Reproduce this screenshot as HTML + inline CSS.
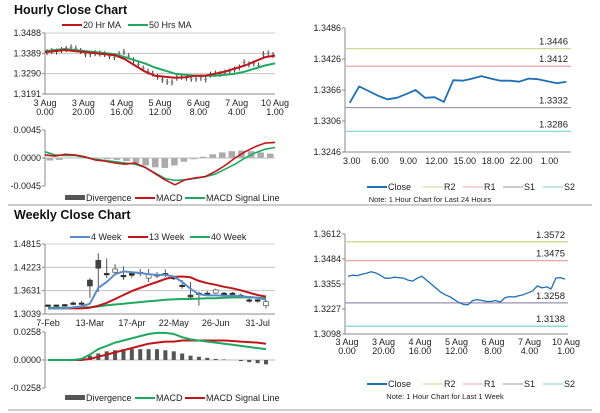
<!DOCTYPE html>
<html><head><meta charset="utf-8"><style>
html,body{margin:0;padding:0;background:#fff;}
svg{display:block;font-family:"Liberation Sans",Arial,sans-serif;}
</style></head><body>
<svg id="s" width="600" height="413" viewBox="0 0 600 413" xmlns="http://www.w3.org/2000/svg">
<text x="14" y="14" font-size="12.5" font-weight="bold" fill="#111">Hourly Close Chart</text>
<text x="14" y="219" font-size="12.5" font-weight="bold" fill="#111">Weekly Close Chart</text>
<line x1="8" y1="205" x2="592" y2="205" stroke="#999" stroke-width="1"/>
<line x1="8" y1="410" x2="592" y2="410" stroke="#999" stroke-width="1"/>
</svg>
<script>
// ---------- data ----------
const hourlyClose=[1.3395,1.3400,1.3398,1.3405,1.3410,1.3418,1.3412,1.3400,1.3385,1.3385,1.3390,1.3388,1.3385,1.3375,1.3370,1.3385,1.3395,1.3375,1.3355,1.3335,1.3315,1.3300,1.3290,1.3275,1.3260,1.3250,1.3248,1.3270,1.3275,1.3270,1.3265,1.3265,1.3270,1.3262,1.3285,1.3290,1.3288,1.3295,1.3300,1.3310,1.3320,1.3345,1.3335,1.3340,1.3330,1.3385,1.3388,1.3380];
const ma20=[1.3395,1.3400,1.3405,1.3400,1.3395,1.3390,1.3385,1.3380,1.3360,1.3330,1.3300,1.3280,1.3275,1.3270,1.3272,1.3280,1.3280,1.3290,1.3300,1.3315,1.3330,1.3350,1.3370,1.3378];
const ma50=[1.3400,1.3405,1.3410,1.3405,1.3400,1.3395,1.3390,1.3385,1.3370,1.3355,1.3340,1.3320,1.3305,1.3290,1.3285,1.3280,1.3280,1.3280,1.3285,1.3290,1.3300,1.3315,1.3330,1.3340];
const hTicks=[1.3191,1.3290,1.3389,1.3488];
const hXLabels=[["3 Aug","0.00"],["3 Aug","20.00"],["4 Aug","16.00"],["5 Aug","12.00"],["6 Aug","8.00"],["7 Aug","4.00"],["10 Aug","1.00"]];
const hMacd=[0.0005,0.0003,0.0006,0.0005,0.0002,-0.0003,-0.0005,-0.0008,-0.0010,-0.0008,-0.0015,-0.0025,-0.0035,-0.0043,-0.0035,-0.0032,-0.0030,-0.0022,-0.0012,0.0000,0.0010,0.0018,0.0024,0.0025];
const hSignal=[0.0010,0.0005,0.0004,0.0004,0.0001,-0.0002,-0.0004,-0.0006,-0.0008,-0.0010,-0.0015,-0.0024,-0.0033,-0.0036,-0.0035,-0.0033,-0.0030,-0.0026,-0.0018,-0.0010,0.0000,0.0008,0.0014,0.0017];
const hDiv=[-0.0004,-0.0003,0.0001,0.0001,0.0001,-0.0001,-0.0002,-0.0003,-0.0005,-0.0008,-0.0012,-0.0015,-0.0016,-0.0012,-0.0006,-0.0002,0.0002,0.0006,0.0009,0.0011,0.0012,0.0011,0.0009,0.0007];
const hMacdTicks=[-0.0045,0.0000,0.0045];

const dayClose=[1.3341,1.3373,1.3364,1.3355,1.3348,1.3351,1.3358,1.3366,1.3351,1.3352,1.3343,1.3385,1.3384,1.3388,1.3393,1.3388,1.3384,1.3384,1.3382,1.3388,1.3387,1.3383,1.3379,1.3382];
const dayLabels=["3.00","6.00","9.00","12.00","15.00","18.00","22.00","1.00"];
const dayTicks=[1.3246,1.3306,1.3366,1.3426,1.3486];
const dayLevels=[1.3446,1.3412,1.3332,1.3286];
const weekLevels=[1.3572,1.3475,1.3258,1.3138];
const weekTicks=[1.3098,1.3227,1.3355,1.3484,1.3612];

const wOpen=[1.325,1.324,1.326,1.330,1.330,1.375,1.420,1.405,1.410,1.400,1.400,1.408,1.395,1.400,1.405,1.395,1.375,1.345,1.355,1.355,1.357,1.355,1.355,1.350,1.338,1.338,1.325];
const wClose=[1.325,1.325,1.326,1.330,1.330,1.390,1.440,1.405,1.418,1.400,1.405,1.408,1.405,1.402,1.405,1.395,1.375,1.350,1.355,1.355,1.365,1.355,1.355,1.350,1.338,1.338,1.335];
const wHigh=[1.328,1.327,1.329,1.336,1.337,1.395,1.458,1.445,1.430,1.425,1.410,1.418,1.418,1.410,1.417,1.400,1.390,1.385,1.360,1.362,1.368,1.360,1.360,1.356,1.344,1.343,1.340];
const wLow=[1.322,1.322,1.323,1.326,1.326,1.345,1.360,1.395,1.405,1.390,1.395,1.400,1.385,1.395,1.398,1.390,1.368,1.340,1.325,1.350,1.355,1.350,1.350,1.345,1.333,1.333,1.318];
const w4=[1.318,1.318,1.318,1.321,1.323,1.330,1.370,1.385,1.405,1.412,1.410,1.408,1.405,1.403,1.403,1.399,1.385,1.368,1.354,1.351,1.351,1.350,1.350,1.349,1.347,1.345,1.340];
const w13=[1.318,1.318,1.318,1.318,1.318,1.320,1.325,1.332,1.342,1.352,1.362,1.370,1.378,1.385,1.393,1.398,1.399,1.397,1.388,1.382,1.378,1.373,1.369,1.364,1.358,1.352,1.348];
const w40=[1.320,1.320,1.320,1.320,1.320,1.321,1.323,1.326,1.328,1.330,1.332,1.334,1.336,1.338,1.340,1.341,1.342,1.342,1.343,1.344,1.344,1.345,1.346,1.346,1.346,1.345,1.344];
const wTicks=[1.3039,1.3631,1.4223,1.4815];
const wLabels=["7-Feb","13-Mar","17-Apr","22-May","26-Jun","31-Jul"];
const wMacd=[0,0,0,0,0.001,0.005,0.010,0.013,0.016,0.018,0.020,0.022,0.024,0.025,0.025,0.024,0.021,0.019,0.018,0.017,0.016,0.015,0.014,0.013,0.012,0.011,0.010];
const wSignal=[0,0,0,0,0,0.001,0.003,0.005,0.007,0.009,0.011,0.013,0.015,0.016,0.017,0.017,0.018,0.018,0.018,0.018,0.018,0.018,0.0175,0.017,0.0165,0.016,0.015];
const wDiv=[0,0,0,0,0,0.004,0.006,0.008,0.009,0.010,0.010,0.010,0.010,0.010,0.009,0.008,0.006,0.004,0.003,0.002,0.001,0.0005,0,-0.001,-0.002,-0.003,-0.004];
const wMacdTicks=[-0.0258,0.0000,0.0258];

// ---------- helpers ----------
const S=document.getElementById('s');const NS='http://www.w3.org/2000/svg';
function el(tag,at,txt){const e=document.createElementNS(NS,tag);for(const k in at)e.setAttribute(k,at[k]);if(txt!==undefined)e.textContent=txt;S.appendChild(e);return e;}
function lin(d0,d1,r0,r1){return v=>r0+(v-d0)/(d1-d0)*(r1-r0);}
function poly(xs,ys,color,w,name){const p=xs.map((x,i)=>x.toFixed(1)+','+ys[i].toFixed(1)).join(' ');const e=el('polyline',{points:p,fill:'none',stroke:color,'stroke-width':w,'stroke-linejoin':'round'});


return e;}
function txt(x,y,s,anchor,size,name){const e=el('text',{x:x,y:y,'font-size':size||9,'text-anchor':anchor||'start',fill:'#222'},s);


return e;}
function yAxis(x0,x1,ys,ticks,fmt,grid,name){
 const a=el('line',{x1:x0,x2:x0,y1:Math.min(...ticks.map(ys)),y2:Math.max(...ticks.map(ys)),stroke:'#888'});
 
 
 ticks.forEach(t=>{const y=ys(t);
  if(grid){const g=el('line',{x1:x0,x2:x1,y1:y,y2:y,stroke:'#bbb','stroke-width':0.8});
   
   }
  const tk=el('line',{x1:x0-3,x2:x0,y1:y,y2:y,stroke:'#888'});
  
  
  txt(x0-4,y+3,fmt(t),'end',9,name+'-y-label');});
}
function legend(items,y,name){items.forEach(it=>{
 if(it.bar){const r=el('rect',{x:it.x,y:y-3,width:20,height:5,fill:it.c});
  
  }
 else{const l=el('line',{x1:it.x,x2:it.x+20,y1:y,y2:y,stroke:it.c,'stroke-width':it.w||2});
  
  }
 txt(it.x+21,y+3,it.t,'start',9,name+'-legend-entry');});}

// ---------- Hourly close (top-left) ----------
{const X0=45,X1=275;const ys=lin(1.3191,1.3488,94,33);
 yAxis(X0,X1,ys,hTicks,v=>v.toFixed(4),true,'hourly');
 const xa=el('line',{x1:X0,x2:X1,y1:94,y2:94,stroke:'#888'});
 
 
 const n=hourlyClose.length;const xs=hourlyClose.map((v,i)=>X0+2+i*(X1-X0-4)/(n-1));
 hourlyClose.forEach((v,i)=>{const b=el('line',{x1:xs[i],x2:xs[i],y1:ys(v)-3,y2:ys(v)+3,stroke:'#333','stroke-width':1});
  
  
  const h=el('line',{x1:xs[i]-1.5,x2:xs[i]+1.5,y1:ys(v),y2:ys(v),stroke:'#888','stroke-width':1});
  
  });
 const mx=ma20.map((v,i)=>X0+i*(X1-X0)/(ma20.length-1));
 poly(mx,ma50.map(ys),'#1fa860',2,'ma50-line');
 poly(mx,ma20.map(ys),'#c0161b',2,'ma20-line');
 hXLabels.forEach((l,i)=>{const x=X0+i*(X1-X0)/(hXLabels.length-1);txt(x,106,l[0],'middle',9,'hourly-x-label');txt(x,115,l[1],'middle',9,'hourly-x-label');});
 legend([{x:62,t:'20 Hr MA',c:'#c0161b'},{x:128,t:'50 Hrs MA',c:'#1fa860'}],25,'hourly');
 const my=lin(-0.0045,0.0045,186,130);
 yAxis(X0,X1,my,hMacdTicks,v=>v.toFixed(4),false,'hourly-macd');
 const bw=(X1-X0)/hDiv.length;
 hDiv.forEach((v,i)=>{const x=X0+i*bw;const y=Math.min(my(v),my(0));const r=el('rect',{x:x+1.5,y:y,width:bw-3,height:Math.abs(my(v)-my(0)),fill:'#aaa'});
  
  });
 const zl=el('line',{x1:X0,x2:X1,y1:my(0),y2:my(0),stroke:'#bbb'});
 
 
 const qx=hMacd.map((v,i)=>X0+i*(X1-X0)/(hMacd.length-1));
 poly(qx,hSignal.map(my),'#1fa860',1.6,'hourly-signal-line');
 poly(qx,hMacd.map(my),'#c0161b',1.6,'hourly-macd-line');
 legend([{x:65,t:'Divergence',c:'#555',bar:1},{x:135,t:'MACD',c:'#c0161b'},{x:185,t:'MACD Signal Line',c:'#1fa860'}],198,'hourly-macd');
}

function levelChart(X0,X1,yTop,yBot,dMin,dMax,ticks,levels,name){
 const ys=lin(dMin,dMax,yBot,yTop);
 yAxis(X0,X1,ys,ticks,v=>v.toFixed(4),false,name);
 const xa=el('line',{x1:X0,x2:X1,y1:yBot,y2:yBot,stroke:'#888'});
 
 
 const cols=['#c8d48a','#e8a7a7','#9b8fb5','#7fcfd6'];
 levels.forEach((v,i)=>{const l=el('line',{x1:X0,x2:X1,y1:ys(v),y2:ys(v),stroke:cols[i],'stroke-width':1.2});
  
  
  txt(X1-3,ys(v)-4,v.toFixed(4),'end',9.5,name+'-level-label');});
 legend([{x:X0+22,t:'Close',c:'#1f6fb5'},{x:X0+78,t:'R2',c:cols[0],w:1},{x:X0+118,t:'R1',c:cols[1],w:1},{x:X0+158,t:'S1',c:cols[2],w:1},{x:X0+198,t:'S2',c:cols[3],w:1}],name==='day'?187:384,name);
 return ys;}
{const X0=345,X1=571;
 const ys=levelChart(X0,X1,28,152,1.3246,1.3486,dayTicks,dayLevels,'day');
 const w=(X1-X0)/dayClose.length;const xs=dayClose.map((v,i)=>X0+(i+0.5)*w);
 poly(xs,dayClose.map(ys),'#1f6fb5',1.8,'day-close-line');
 dayLabels.forEach((l,i)=>txt(X0+(i*3+0.5)*w+2,164,l,'middle',9,'day-x-label'));
 txt(430,202,'Note: 1 Hour Chart for Last 24 Hours','middle',7.5,'day-note');
}
{const X0=345,X1=568;
 const ys=levelChart(X0,X1,234,334,1.3098,1.3612,weekTicks,weekLevels,'week');
 const xs=hourlyClose.map((v,i)=>X0+3+i*(X1-X0-6)/(hourlyClose.length-1));
 poly(xs,hourlyClose.map(ys),'#1f6fb5',1.3,'week-close-line');
 hXLabels.forEach((l,i)=>{const x=X0+2+i*(X1-X0-4)/(hXLabels.length-1);txt(x,345,l[0],'middle',9,'week-x-label');txt(x,354,l[1],'middle',9,'week-x-label');});
 txt(445,399,'Note: 1 Hour Chart for  Last 1 Week','middle',7.5,'week-note');
}

// ---------- Weekly (bottom-left) ----------
{const X0=45,X1=275;const ys=lin(1.3039,1.4815,314,244);
 yAxis(X0,X1,ys,wTicks,v=>v.toFixed(4),true,'weekly');
 const xa=el('line',{x1:X0,x2:X1,y1:314,y2:314,stroke:'#888'});
 
 
 const n=wClose.length;const st=(X1-X0-12)/(n-1);const xs=wClose.map((v,i)=>X0+3+i*st);
 wClose.forEach((c,i)=>{const o=wOpen[i];const x=xs[i];
  const wk=el('line',{x1:x,x2:x,y1:ys(wHigh[i]),y2:ys(wLow[i]),stroke:'#555','stroke-width':1});
  
  
  const top=ys(Math.max(o,c)),h=Math.max(1.5,Math.abs(ys(o)-ys(c)));
  const r=el('rect',{x:x-2.5,y:top-(h<2?0.75:0),width:5,height:h,fill:h>2?(c>o?'#fff':'#444'):'#222',stroke:'#333','stroke-width':0.6});
  if(i===5||i===6||i===17)r.setAttribute('fill','#444');
  
  });
 poly(xs,w40.map(ys),'#1fa860',2,'week40-line');
 poly(xs,w13.map(ys),'#c0161b',2,'week13-line');
 poly(xs,w4.map(ys),'#5b8cc8',2,'week4-line');
 wLabels.forEach((l,i)=>txt(X0+3+i*5*st,326,l,'middle',9,'weekly-x-label'));
 legend([{x:70,t:'4 Week',c:'#5b8cc8'},{x:128,t:'13 Week',c:'#c0161b'},{x:190,t:'40 Week',c:'#1fa860'}],237,'weekly');
 const my=lin(-0.0258,0.0258,388,332);
 yAxis(X0,X1,my,wMacdTicks,v=>v.toFixed(4),false,'weekly-macd');
 const zl=el('line',{x1:X0,x2:X1,y1:my(0),y2:my(0),stroke:'#bbb'});
 
 
 wDiv.forEach((v,i)=>{if(v===0)return;const y=Math.min(my(v),my(0));const r=el('rect',{x:xs[i]-2,y:y,width:4,height:Math.abs(my(v)-my(0)),fill:'#555'});
  
  });
 poly(xs,wSignal.map(my),'#c0161b',2,'weekly-signal-line');
 poly(xs,wMacd.map(my),'#1fa860',2,'weekly-macd-line');
 legend([{x:65,t:'Divergence',c:'#555',bar:1},{x:135,t:'MACD',c:'#1fa860'},{x:185,t:'MACD Signal Line',c:'#c0161b'}],398,'weekly-macd');
}
</script>
</body></html>
